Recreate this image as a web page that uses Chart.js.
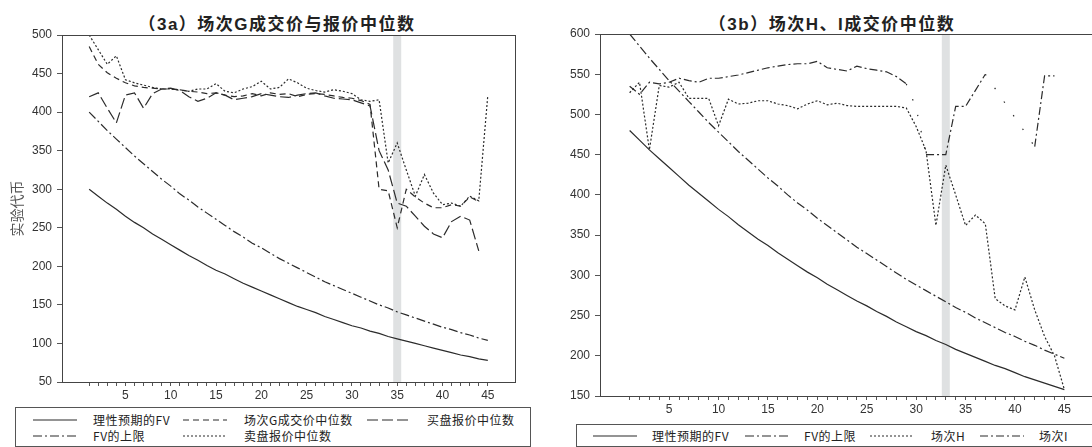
<!DOCTYPE html>
<html>
<head>
<meta charset="utf-8">
<script src="https://cdn.jsdelivr.net/npm/chart.js@4.4.1/dist/chart.umd.min.js"></script>
<style>
html, body { margin: 0; padding: 0; background: #fff; overflow: hidden; width: 1092px; height: 447px; }
body { position: relative; font-family: "Liberation Sans", "Noto Sans CJK SC", sans-serif; }
canvas { position: absolute; }
.title { position: absolute; top: 10px; line-height: 20px; font: bold 17px "Liberation Sans", "Noto Sans CJK SC", sans-serif;
         letter-spacing: 1.5px; color: #222; white-space: nowrap; transform: translateX(-50%); }
.legend { position: absolute; border: 1px solid #555; background: #fff; color: #222; box-sizing: border-box; }
.legend span { position: absolute; white-space: nowrap; font: 12px "Noto Sans CJK SC", "Liberation Sans", sans-serif;
               line-height: 14px; letter-spacing: 0.5px; }
.legend svg { position: absolute; }
</style>
</head>
<body>
<div class="title" style="left:277px">（3a）场次G成交价与报价中位数</div>
<div class="title" style="left:832px">（3b）场次H、I成交价中位数</div>
<canvas id="chartG" width="530" height="400" style="left:0;top:0;width:530px;height:400px"></canvas>
<canvas id="chartHI" width="549" height="420" style="left:550px;top:0;width:549px;height:420px"></canvas>
<div class="legend" id="legendG" style="left:15px;top:407px;width:516px;height:40px"></div>
<div class="legend" id="legendHI" style="left:576px;top:424px;width:530px;height:23px"></div>

<script>
// rounds (periods) 1..45
const rounds = [1,2,3,4,5,6,7,8,9,10,11,12,13,14,15,16,17,18,19,20,21,22,23,24,25,26,27,28,29,30,
                31,32,33,34,35,36,37,38,39,40,41,42,43,44,45];
const yTicksG = [50,100,150,200,250,300,350,400,450,500];
const yTicksHI = [150,200,250,300,350,400,450,500,550,600];

// (3a) session G
const fvG = [300,291,282,274,265,257,250,242,235,228,221,214,208,201,195,190,184,178,173,168,163,158,153,148,144,
             140,135,131,127,123,120,116,113,109,106,103,100,97,94,91,88,85,83,80,78];
const upperG = [400,388,376,365,354,343,333,323,313,304,294,286,277,269,261,253,245,238,230,224,217,210,204,198,192,
                186,180,175,170,165,160,155,150,146,141,137,133,129,125,121,118,114,111,107,104];
const tradeG = [485,462,451,444,438,434,432,431,430,430,429,427,426,424,425,422,420,421,424,421,425,423,424,420,423,
                424,423,421,419,418,415,410,300,298,250,300,290,282,276,276,280,278,290,284,null];
const buyG = [420,425,405,386,422,425,405,424,430,431,428,420,414,418,425,422,416,418,420,424,422,420,419,422,424,
              425,421,418,417,416,412,408,350,325,282,278,265,252,242,237,258,265,260,220,null];
const sellG = [500,481,462,473,442,438,435,432,430,430,429,427,430,430,437,427,425,430,433,440,430,432,443,438,431,
               428,426,429,427,424,416,414,416,334,360,325,291,319,295,280,282,278,291,285,422];

// (3b) sessions H and I
const fvHI = [480,468,456,445,434,423,412,402,392,382,373,363,354,345,337,328,320,312,304,297,289,282,275,268,262,
              255,249,242,236,230,225,219,214,208,203,198,193,188,184,179,174,170,166,162,158];
const upperHI = [600,585,570,556,542,529,516,503,490,478,466,454,443,432,421,411,400,390,381,371,362,353,344,335,327,
                 319,311,303,295,288,281,274,267,260,254,247,241,235,229,224,218,213,207,202,197];
const sessionH = [527,540,456,536,534,540,520,520,520,486,519,513,514,517,517,513,511,507,513,517,512,514,511,510,510,
                  510,510,510,508,485,455,362,437,400,362,375,364,271,262,257,298,257,224,200,158];
const sessionI = [535,525,540,538,540,545,542,540,545,545,547,549,552,555,558,560,562,563,563,566,558,556,554,560,557,
                  555,553,547,538,508,450,450,450,510,510,530,550,532,514,496,478,460,548,548,null];
// rounds where the session I line starts a faint (sparsely dotted) stretch
const faintI = [29,30,37,38,39,40,41];

const INK = '#2b2b2b';
const dash = {
  solid: [],
  upper: [9,3,2,3],
  trade: [6,4],
  buy: [11,4],
  dotted: [2,2],
  sessI: [8,3,2,3]
};

const pts = arr => rounds.map((r, i) => ({x: r, y: arr[i]}));

function line(label, arr, d, extra) {
  return Object.assign({
    label, data: pts(arr), borderColor: INK, borderWidth: 1.2, borderDash: d,
    pointRadius: 0, tension: 0, fill: false, spanGaps: false
  }, extra || {});
}

const framePlugin = {
  id: 'frame',
  beforeDatasetsDraw(chart, args, opts) {
    const {ctx, chartArea: a, scales} = chart;
    const xp = scales.x.getPixelForValue(opts.band);
    ctx.save();
    ctx.fillStyle = '#dfe1e2';
    ctx.fillRect(xp - 4, a.top, 8, a.bottom - a.top);
    ctx.restore();
  },
  afterDraw(chart) {
    const {ctx, chartArea: a} = chart;
    ctx.save();
    ctx.strokeStyle = '#444';
    ctx.lineWidth = 1;
    ctx.strokeRect(Math.round(a.left) + 0.5, Math.round(a.top) + 0.5,
                   Math.round(a.right - a.left), Math.round(a.bottom - a.top));
    ctx.restore();
  }
};

function axes(yMin, yMax, yTicks, yWidth, xHeight, yTitle) {
  const tickFont = {family: '"Liberation Sans", Arial, sans-serif', size: 12};
  return {
    x: {
      type: 'linear', min: -2, max: 48,
      afterBuildTicks: s => { s.ticks = rounds.map(v => ({value: v})); },
      afterFit: s => { s.height = xHeight; },
      ticks: {autoSkip: false, maxRotation: 0, padding: 2, color: '#333', font: tickFont,
              callback: v => (v % 5 === 0 ? String(v) : '')},
      grid: {drawOnChartArea: false, tickLength: 4, color: '#555'},
      border: {color: '#444'}
    },
    y: {
      min: yMin, max: yMax,
      afterBuildTicks: s => { s.ticks = yTicks.map(v => ({value: v})); },
      afterFit: s => { s.width = yWidth; },
      ticks: {padding: 5, color: '#333', font: tickFont},
      grid: {drawOnChartArea: false, tickLength: 5, color: '#555'},
      border: {color: '#444'},
      title: yTitle ? {display: true, text: yTitle, color: '#555',
                       font: {family: '"Noto Sans CJK SC", sans-serif', size: 14},
                       padding: {top: 8, bottom: 0}} : {display: false}
    }
  };
}

new Chart(document.getElementById('chartG'), {
  type: 'line',
  data: {datasets: [
    line('理性预期的FV', fvG, dash.solid),
    line('场次G成交价中位数', tradeG, dash.trade),
    line('买盘报价中位数', buyG, dash.buy),
    line('FV的上限', upperG, dash.upper),
    line('卖盘报价中位数', sellG, dash.dotted)
  ]},
  options: {
    responsive: false, animation: false, devicePixelRatio: 1,
    layout: {padding: {top: 35, right: 15, bottom: 0, left: 0}},
    plugins: {legend: {display: false}, tooltip: {enabled: false}, frame: {band: 35}},
    scales: axes(50, 500, yTicksG, 62, 18, '实验代币')
  },
  plugins: [framePlugin]
});

new Chart(document.getElementById('chartHI'), {
  type: 'line',
  data: {datasets: [
    line('理性预期的FV', fvHI, dash.solid),
    line('FV的上限', upperHI, dash.upper),
    line('场次H', sessionH, dash.dotted),
    line('场次I', sessionI, dash.sessI, {
      segment: {borderDash: c => (faintI.includes(rounds[c.p0DataIndex]) ? [1.5, 15] : undefined)}
    })
  ]},
  options: {
    responsive: false, animation: false, devicePixelRatio: 1,
    layout: {padding: {top: 34, right: 5, bottom: 0, left: 0}},
    plugins: {legend: {display: false}, tooltip: {enabled: false}, frame: {band: 33}},
    scales: axes(150, 600, yTicksHI, 50, 24, null)
  },
  plugins: [framePlugin]
});

// legends: sample line + label, positions relative to the box
function sample(d) {
  return '<svg width="44" height="6"><line x1="0" y1="3" x2="44" y2="3" stroke="' + INK +
         '" stroke-width="1.2" stroke-dasharray="' + (d.length ? d.join(',') : 'none') + '"/></svg>';
}
function buildLegend(id, items) {
  const box = document.getElementById(id);
  box.innerHTML = items.map(it =>
    sample(it.d).replace('<svg', '<svg style="left:' + it.sx + 'px;top:' + (it.y - 3) + 'px"') +
    '<span style="left:' + it.tx + 'px;top:' + (it.y - 7) + 'px">' + it.text + '</span>'
  ).join('');
}
buildLegend('legendG', [
  {text: '理性预期的FV', d: dash.solid, sx: 17, tx: 77, y: 12},
  {text: '场次G成交价中位数', d: dash.trade, sx: 167, tx: 228, y: 12},
  {text: '买盘报价中位数', d: dash.buy, sx: 351, tx: 411, y: 12},
  {text: 'FV的上限', d: dash.upper, sx: 17, tx: 77, y: 28},
  {text: '卖盘报价中位数', d: dash.dotted, sx: 167, tx: 228, y: 28}
]);
buildLegend('legendHI', [
  {text: '理性预期的FV', d: dash.solid, sx: 16, tx: 75, y: 11},
  {text: 'FV的上限', d: dash.upper, sx: 168, tx: 227, y: 11},
  {text: '场次H', d: dash.dotted, sx: 293, tx: 354, y: 11},
  {text: '场次I', d: dash.sessI, sx: 403, tx: 462, y: 11}
]);
</script>
</body>
</html>
